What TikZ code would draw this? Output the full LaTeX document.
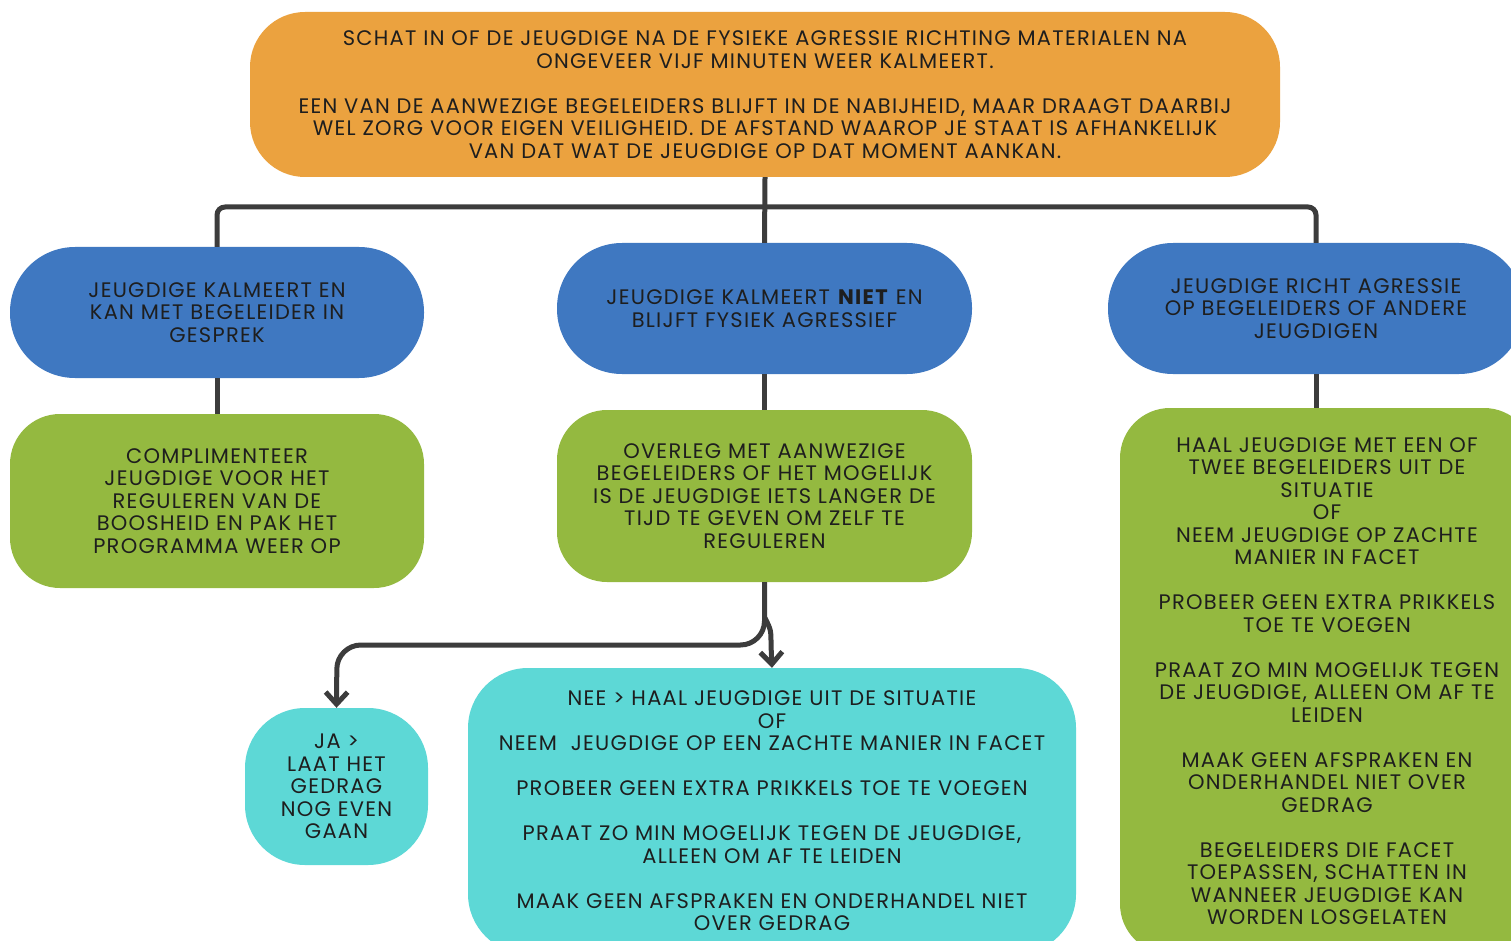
\documentclass[tikz,border=0pt]{standalone}
\usepackage{fontspec}
\setmainfont{Poppins}
\newfontfamily\boxfont[LetterSpace=6]{Poppins}
\usepackage{xcolor}
\usepackage{tikz}
\usetikzlibrary{arrows.meta}
\definecolor{boxorange}{HTML}{EBA23F}
\definecolor{boxblue}{HTML}{3F78C1}
\definecolor{boxgreen}{HTML}{94B940}
\definecolor{boxcyan}{HTML}{5DD8D6}
\definecolor{linegray}{HTML}{3C3C3C}
\definecolor{textdark}{HTML}{1E1E1E}
\tikzstyle{mybox} = [rectangle, inner sep=0pt, align=center, text=textdark,
font=\boxfont\fontsize{21}{22.5}\selectfont]
\tikzstyle{topbox} = [mybox, fill=boxorange, rounded corners=55pt]
\tikzstyle{bluebox} = [mybox, fill=boxblue, rounded corners=65pt,
minimum height=131pt]
\tikzstyle{greenbox} = [mybox, fill=boxgreen, rounded corners=50pt]
\tikzstyle{cyanbox} = [mybox, fill=boxcyan, rounded corners=60pt]
\tikzstyle{connector} = [draw=linegray, line width=5pt]
\tikzstyle{arrowline} = [connector, -{Straight Barb[length=12pt,width=22pt]}]

\begin{document}
\begin{tikzpicture}[x=1pt, y=-1pt]
        \clip (0,0) rectangle (1511,941);
        % first assessment
        \node [topbox, minimum width=1030pt, minimum height=165pt] (top) at (765,94.5) {%
            SCHAT IN OF DE JEUGDIGE NA DE FYSIEKE AGRESSIE RICHTING MATERIALEN NA\\
            ONGEVEER VIJF MINUTEN WEER KALMEERT.\\[22.5pt]
            EEN VAN DE AANWEZIGE BEGELEIDERS BLIJFT IN DE NABIJHEID, MAAR DRAAGT DAARBIJ\\
            WEL ZORG VOOR EIGEN VEILIGHEID. DE AFSTAND WAAROP JE STAAT IS AFHANKELIJK\\
            VAN DAT WAT DE JEUGDIGE OP DAT MOMENT AANKAN.};
        % three situations
        \node [bluebox, minimum width=414pt] (calm) at (217,312.5) {%
            JEUGDIGE KALMEERT EN\\ KAN MET BEGELEIDER IN\\ GESPREK};
        \node [bluebox, minimum width=415pt] (notcalm) at (764.5,308.5) {%
            JEUGDIGE KALMEERT \textbf{NIET} EN\\ BLIJFT FYSIEK AGRESSIEF};
        \node [bluebox, minimum width=416pt] (attack) at (1316,308.5) {%
            JEUGDIGE RICHT AGRESSIE\\ OP BEGELEIDERS OF ANDERE\\ JEUGDIGEN};
        % actions
        \node [greenbox, minimum width=414pt, minimum height=174pt] (praise) at (217,501) {%
            COMPLIMENTEER\\ JEUGDIGE VOOR HET\\ REGULEREN VAN DE\\
            BOOSHEID EN PAK HET\\ PROGRAMMA WEER OP};
        \node [greenbox, minimum width=415pt, minimum height=172pt] (consult) at (764.5,496) {%
            OVERLEG MET AANWEZIGE\\ BEGELEIDERS OF HET MOGELIJK\\
            IS DE JEUGDIGE IETS LANGER DE\\ TIJD TE GEVEN OM ZELF TE\\ REGULEREN};
        \node [greenbox, minimum width=414pt, minimum height=546pt] (remove) at (1327,681) {%
            HAAL JEUGDIGE MET EEN OF\\ TWEE BEGELEIDERS UIT DE\\ SITUATIE\\ OF\\
            NEEM JEUGDIGE OP ZACHTE\\ MANIER IN FACET\\[22.5pt]
            PROBEER GEEN EXTRA PRIKKELS\\ TOE TE VOEGEN\\[22.5pt]
            PRAAT ZO MIN MOGELIJK TEGEN\\ DE JEUGDIGE, ALLEEN OM AF TE\\ LEIDEN\\[22.5pt]
            MAAK GEEN AFSPRAKEN EN\\ ONDERHANDEL NIET OVER\\ GEDRAG\\[22.5pt]
            BEGELEIDERS DIE FACET\\ TOEPASSEN, SCHATTEN IN\\ WANNEER JEUGDIGE KAN\\ WORDEN LOSGELATEN};
        % outcome of the consult
        \node [cyanbox, minimum width=183pt, minimum height=157pt] (ja) at (336.5,786.5) {%
            JA >\\ LAAT HET\\ GEDRAG\\ NOG EVEN\\ GAAN};
        \node [cyanbox, minimum width=608pt, minimum height=286pt] (nee) at (772,811) {%
            NEE > HAAL JEUGDIGE UIT DE SITUATIE\\ OF\\
            NEEM \ JEUGDIGE OP EEN ZACHTE MANIER IN FACET\\[22.5pt]
            PROBEER GEEN EXTRA PRIKKELS TOE TE VOEGEN\\[22.5pt]
            PRAAT ZO MIN MOGELIJK TEGEN DE JEUGDIGE,\\ ALLEEN OM AF TE LEIDEN\\[22.5pt]
            MAAK GEEN AFSPRAKEN EN ONDERHANDEL NIET\\ OVER GEDRAG};
        % connectors
        \coordinate (split) at (765,207);
        \coordinate (fork) at (765,618);
        \coordinate (bend) at (337,645);
        \draw [connector] (top.south) -- (notcalm.north);
        \draw [connector, rounded corners=8pt] (calm.north) |- (split) -| (attack.north);
        \draw [connector] (calm.south) -- (praise.north);
        \draw [connector] (notcalm.south) -- (consult.north);
        \draw [connector] (attack.south) -- (attack.south |- remove.north);
        \draw [arrowline, rounded corners=24pt] (consult.south) |- (bend) -- (ja.north);
        \draw [arrowline] (fork) .. controls (771,630) .. (771,645) -- (nee.north);
    \end{tikzpicture}
\end{document}
